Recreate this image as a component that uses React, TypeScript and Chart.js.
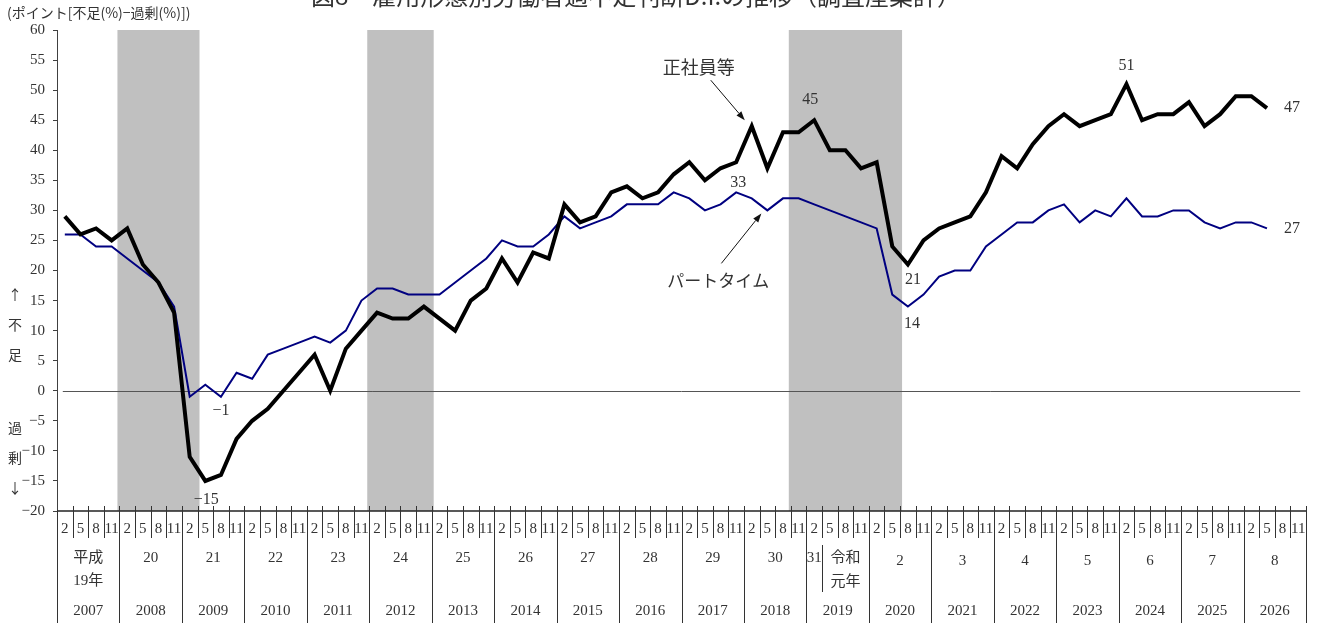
import React, { useEffect, useRef } from 'react';
import { Chart, registerables } from 'chart.js';

Chart.register(...registerables);

// ---- data ----
const years = [2007, 2008, 2009, 2010, 2011, 2012, 2013, 2014, 2015, 2016, 2017, 2018, 2019, 2020, 2021, 2022, 2023, 2024, 2025, 2026];
const months = ['2', '5', '8', '11'];
const categories = years.flatMap((y) => months.map((m) => `${y}/${m}`));

// 正社員等
const fullTimeDI = [
  29, 26, 27, 25,
  27, 21, 18, 13,
  -11, -15, -14, -8,
  -5, -3, 0, 3,
  6, 0, 7, 10,
  13, 12, 12, 14,
  12, 10, 15, 17,
  22, 18, 23, 22,
  31, 28, 29, 33,
  34, 32, 33, 36,
  38, 35, 37, 38,
  44, 37, 43, 43,
  45, 40, 40, 37,
  38, 24, 21, 25,
  27, 28, 29, 33,
  39, 37, 41, 44,
  46, 44, 45, 46,
  51, 45, 46, 46,
  48, 44, 46, 49,
  49, 47, null, null,
];

// パートタイム
const partTimeDI = [
  26, 26, 24, 24,
  22, 20, 18, 14,
  -1, 1, -1, 3,
  2, 6, 7, 8,
  9, 8, 10, 15,
  17, 17, 16, 16,
  16, 18, 20, 22,
  25, 24, 24, 26,
  29, 27, 28, 29,
  31, 31, 31, 33,
  32, 30, 31, 33,
  32, 30, 32, 32,
  31, 30, 29, 28,
  27, 16, 14, 16,
  19, 20, 20, 24,
  26, 28, 28, 30,
  31, 28, 30, 29,
  32, 29, 29, 30,
  30, 28, 27, 28,
  28, 27, null, null,
];

const yMin = -20;
const yMax = 60;
const yStep = 5;

// recession shading (quarter slot index ranges, inclusive)
const recessions = [
  [4, 8],
  [20, 23],
  [47, 53],
];

// era (和暦) labels per calendar year; 2019 handled separately
const eraLabels = ['平成\n19年', '20', '21', '22', '23', '24', '25', '26', '27', '28', '29', '30', '', '2', '3', '4', '5', '6', '7', '8'];
const era2019Heisei = '31';
const era2019Reiwa = '令和\n元年';

const seriesNames = ['正社員等', 'パートタイム'];

const SERIF = '"Liberation Serif", "Noto Sans CJK JP", serif';
const JP = '"Noto Sans CJK JP", sans-serif';
const TEXT = '#333333';

const decorPlugin = {
  id: 'decor',
  beforeDatasetsDraw(chart: any) {
    const { ctx, chartArea, scales } = chart;
    const x = scales.x;
    const y = scales.y;
    const slot = (chartArea.right - chartArea.left) / categories.length;
    ctx.save();
    ctx.fillStyle = '#c0c0c0';
    recessions.forEach(([a, b]) => {
      const x0 = x.getPixelForValue(a) - slot / 2 - 2;
      const x1 = x.getPixelForValue(b) + slot / 2 + 2;
      ctx.fillRect(x0, chartArea.top, x1 - x0, chartArea.bottom - chartArea.top);
    });
    const y0 = Math.round(y.getPixelForValue(0)) + 0.5;
    ctx.strokeStyle = '#555555';
    ctx.lineWidth = 1;
    ctx.beginPath();
    ctx.moveTo(x.getPixelForValue(0) - 2, y0);
    ctx.lineTo(x.getPixelForValue(categories.length - 1) + 2, y0);
    ctx.stroke();
    ctx.restore();
  },
  afterDraw(chart: any) {
    const { ctx, chartArea, scales } = chart;
    const x = scales.x;
    const y = scales.y;
    const n = categories.length;
    const slot = (chartArea.right - chartArea.left) / n;
    const axisY = chartArea.bottom;
    const bottom = chart.height;

    const line = (x0: number, y0: number, x1: number, y1: number) => {
      ctx.beginPath();
      ctx.moveTo(x0, y0);
      ctx.lineTo(x1, y1);
      ctx.stroke();
    };

    ctx.save();
    // x axis line
    ctx.strokeStyle = '#222222';
    ctx.lineWidth = 1.5;
    line(chartArea.left, axisY, chartArea.right, axisY);

    // separators
    ctx.strokeStyle = '#333333';
    ctx.lineWidth = 1;
    for (let b = 0; b <= n; b++) {
      const bx = Math.round(chartArea.left + b * slot) + 0.5;
      if (b % 4 === 0) {
        line(bx, b === 0 ? axisY : axisY - 5, bx, bottom);
      } else {
        line(bx, axisY - 5, bx, axisY + 27);
      }
    }
    // 2019 Heisei/Reiwa split
    const b2019 = years.indexOf(2019) * 4 + 1;
    const sx = Math.round(chartArea.left + b2019 * slot) + 0.5;
    line(sx, axisY + 34, sx, axisY + 81);

    // month labels
    ctx.fillStyle = TEXT;
    ctx.textAlign = 'center';
    ctx.textBaseline = 'middle';
    ctx.font = `15px ${SERIF}`;
    for (let i = 0; i < n; i++) {
      ctx.fillText(months[i % 4], x.getPixelForValue(i), axisY + 18);
    }

    // era labels
    ctx.font = `15px ${SERIF}`;
    years.forEach((yr, k) => {
      const lbl = eraLabels[k];
      if (!lbl) return;
      const cx = (x.getPixelForValue(k * 4) + x.getPixelForValue(k * 4 + 3)) / 2;
      const ly = yr >= 2020 ? axisY + 50 : axisY + 47;
      const parts = lbl.split('\n');
      parts.forEach((p, j) => ctx.fillText(p, cx, ly + j * 23));
    });
    {
      const k = years.indexOf(2019);
      ctx.fillText(era2019Heisei, x.getPixelForValue(k * 4), axisY + 47);
      const cx = x.getPixelForValue(k * 4 + 2);
      era2019Reiwa.split('\n').forEach((p, j) => ctx.fillText(p, cx, axisY + 47 + j * 24));
    }

    // calendar years
    years.forEach((yr, k) => {
      const cx = (x.getPixelForValue(k * 4) + x.getPixelForValue(k * 4 + 3)) / 2;
      ctx.fillText(String(yr), cx, axisY + 100);
    });

    // point value labels
    const pt = (ds: number[], idx: number) => ({ px: x.getPixelForValue(idx), py: y.getPixelForValue(ds[idx] as number) });
    const fmt = (v: number) => String(v).replace('-', '−');
    const valueLabels: [number[], number, number, number][] = [
      [fullTimeDI as number[], 48, -4, -20],
      [partTimeDI as number[], 43, 2, -10],
      [fullTimeDI as number[], 54, 5, 15],
      [partTimeDI as number[], 54, 4, 17],
      [fullTimeDI as number[], 68, 0, -18],
      [fullTimeDI as number[], 77, 25, 0],
      [partTimeDI as number[], 77, 25, 0],
      [partTimeDI as number[], 10, 0, 14],
      [fullTimeDI as number[], 9, 1, 19],
    ];
    ctx.font = `16px ${SERIF}`;
    valueLabels.forEach(([ds, idx, dx, dy]) => {
      const { px, py } = pt(ds, idx);
      ctx.fillText(fmt(ds[idx] as number), px + dx, py + dy);
    });

    // series annotations with arrows
    const arrow = (x0: number, y0: number, x1: number, y1: number) => {
      ctx.strokeStyle = '#111';
      ctx.fillStyle = '#111';
      ctx.lineWidth = 1;
      const ang = Math.atan2(y1 - y0, x1 - x0);
      const hl = 9;
      const hw = 3.2;
      const bx = x1 - hl * Math.cos(ang);
      const by = y1 - hl * Math.sin(ang);
      line(x0, y0, bx, by);
      ctx.beginPath();
      ctx.moveTo(x1, y1);
      ctx.lineTo(bx + hw * Math.sin(ang), by - hw * Math.cos(ang));
      ctx.lineTo(bx - hw * Math.sin(ang), by + hw * Math.cos(ang));
      ctx.closePath();
      ctx.fill();
    };
    {
      const { px, py } = pt(fullTimeDI as number[], 44);
      arrow(px - 41, py - 46, px - 7, py - 6);
      ctx.fillStyle = TEXT;
      ctx.font = `18px ${JP}`;
      ctx.fillText(seriesNames[0], px - 53, py - 59);
    }
    {
      const { px, py } = pt(partTimeDI as number[], 45);
      arrow(px - 46, py + 53, px - 6, py + 3);
      ctx.fillStyle = TEXT;
      ctx.font = `17px ${JP}`;
      ctx.fillText(seriesNames[1], px - 49, py + 70);
    }

    // left side labels
    ctx.fillStyle = TEXT;
    ctx.font = `14px ${JP}`;
    const side: [string, number][] = [
      ['↑', 295], ['不', 325], ['足', 355], ['過', 428], ['剰', 458], ['↓', 488],
    ];
    side.forEach(([t, yy]) => ctx.fillText(t, 15, yy));

    // unit label
    ctx.textAlign = 'left';
    ctx.font = `14px ${JP}`;
    ctx.fillText('(ポイント[不足(%)−過剰(%)])', 7, 13);

    // title (top clipped as in the reference)
    ctx.textAlign = 'center';
    ctx.textBaseline = 'ideographic';
    ctx.font = `24px ${JP}`;
    ctx.fillText('図8　雇用形態別労働者過不足判断D.I.の推移（調査産業計）', 636, 8);
    ctx.restore();
  },
};

export default function App() {
  const ref = useRef<HTMLCanvasElement | null>(null);
  useEffect(() => {
    if (!ref.current) return;
    const chart = new Chart(ref.current, {
      type: 'line',
      data: {
        labels: categories,
        datasets: [
          {
            label: seriesNames[0],
            data: fullTimeDI,
            borderColor: '#000000',
            borderWidth: 4,
            pointRadius: 0,
            tension: 0,
            fill: false,
          },
          {
            label: seriesNames[1],
            data: partTimeDI,
            borderColor: '#000080',
            borderWidth: 2,
            pointRadius: 0,
            tension: 0,
            fill: false,
          },
        ],
      },
      options: {
        responsive: false,
        animation: false,
        events: [],
        layout: { padding: { top: 30, right: 12, bottom: 112, left: 0 } },
        plugins: {
          legend: { display: false },
          tooltip: { enabled: false },
        },
        scales: {
          x: {
            type: 'category',
            display: false,
            offset: true,
          },
          y: {
            min: yMin,
            max: yMax,
            ticks: {
              stepSize: yStep,
              color: TEXT,
              padding: 8,
              font: { family: '"Liberation Serif", serif', size: 15 },
              callback: (v: any) => String(v).replace('-', '−'),
            },
            grid: {
              drawOnChartArea: false,
              drawTicks: true,
              tickLength: 4,
              color: '#404040',
            },
            border: { color: '#404040', width: 1 },
            afterFit: (s: any) => {
              s.width = 57;
            },
          },
        },
      },
      plugins: [decorPlugin],
    } as any);
    return () => chart.destroy();
  }, []);
  return (
    <div style={{ position: 'fixed', left: 0, top: 0, width: 1318, height: 623, background: '#fff' }}>
      <canvas ref={ref} width={1318} height={623} style={{ display: 'block' }} />
    </div>
  );
}
